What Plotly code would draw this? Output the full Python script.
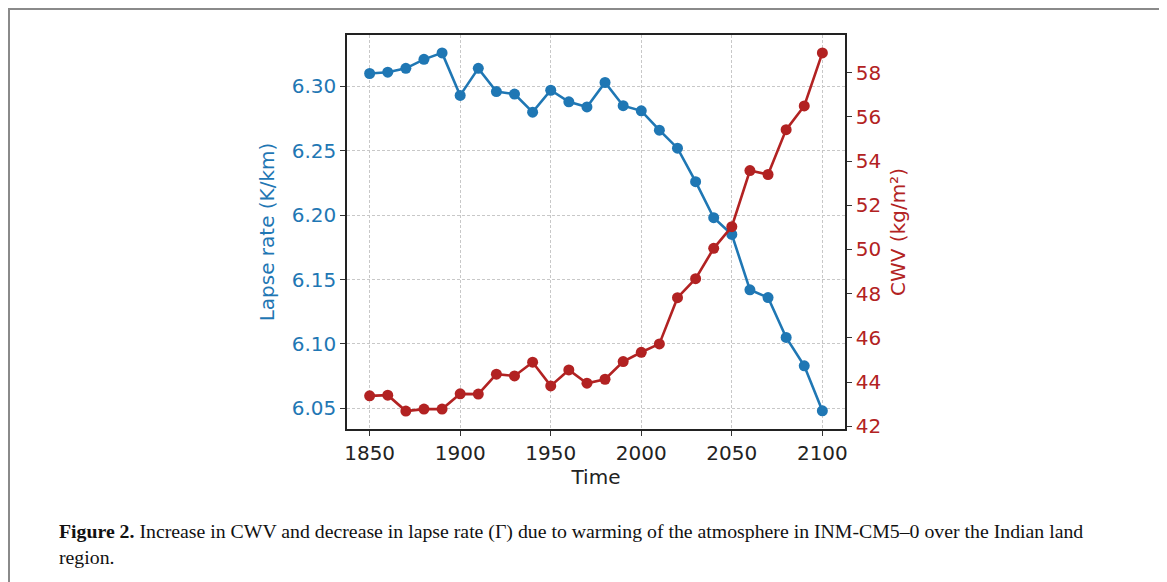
import plotly.graph_objects as go

# ---- data ----
years = [1850, 1860, 1870, 1880, 1890, 1900, 1910, 1920, 1930, 1940, 1950, 1960, 1970,
         1980, 1990, 2000, 2010, 2020, 2030, 2040, 2050, 2060, 2070, 2080, 2090, 2100]
lapse_rate = [6.310, 6.311, 6.314, 6.321, 6.326, 6.293, 6.314, 6.296, 6.294, 6.280,
              6.297, 6.288, 6.284, 6.303, 6.285, 6.281, 6.266, 6.252, 6.226, 6.198,
              6.185, 6.142, 6.136, 6.105, 6.083, 6.048]
cwv = [43.38, 43.41, 42.69, 42.78, 42.78, 43.47, 43.46, 44.36, 44.28, 44.90,
       43.83, 44.55, 43.95, 44.13, 44.93, 45.35, 45.73, 47.82, 48.68, 50.05,
       51.03, 53.57, 53.39, 55.42, 56.49, 58.89]

x_ticks = [1850, 1900, 1950, 2000, 2050, 2100]
lapse_ticks = [6.05, 6.10, 6.15, 6.20, 6.25, 6.30]
cwv_ticks = [42, 44, 46, 48, 50, 52, 54, 56, 58]

BLUE = "#1f77b4"
RED = "#b22222"
FONT = "DejaVu Sans"

# page offset of the figure (browser body margin)
OFF = 8
W, H = 1167 - OFF, 582 - OFF
# plot area in page pixels
PL, PR, PT, PB = 347, 845, 35, 429


def px(x):
    return (x - PL) / (PR - PL)


def py(y):
    return (PB - y) / (PB - PT)


fig = go.Figure()
fig.add_trace(go.Scatter(
    x=years, y=lapse_rate, mode="lines+markers", yaxis="y",
    line=dict(color=BLUE, width=2.6),
    marker=dict(color=BLUE, size=11), showlegend=False))
fig.add_trace(go.Scatter(
    x=years, y=cwv, mode="lines+markers", yaxis="y2",
    line=dict(color=RED, width=2.6),
    marker=dict(color=RED, size=11), showlegend=False))

axis_common = dict(
    showline=True, linecolor="#222222", linewidth=1.6,
    ticks="outside", ticklen=5, tickwidth=1.4, tickcolor="#333333",
    zeroline=False,
)

fig.update_layout(
    width=W, height=H,
    margin=dict(l=PL - OFF, r=1167 - PR, t=PT - OFF, b=582 - PB),
    paper_bgcolor="white", plot_bgcolor="white",
    font=dict(family=FONT, size=20, color="#222222"),
    xaxis=dict(
        range=[1837.5, 2112.5], tickvals=x_ticks,
        ticktext=[str(v) for v in x_ticks],
        tickfont=dict(family=FONT, size=20, color="#222222"),
        showgrid=True, gridcolor="#c8c8c8", gridwidth=1, griddash="3px,2px",
        mirror=True,
        title=dict(text="Time", font=dict(family=FONT, size=20, color="#222222"), standoff=6),
        **axis_common),
    yaxis=dict(
        range=[6.0339, 6.3399], tickvals=lapse_ticks,
        ticktext=[f"{v:.2f}" for v in lapse_ticks],
        tickfont=dict(family=FONT, size=20, color=BLUE),
        showgrid=True, gridcolor="#c8c8c8", gridwidth=1, griddash="3px,2px",
        title=dict(text="Lapse rate (K/km)", font=dict(family=FONT, size=20, color=BLUE), standoff=12),
        **axis_common),
    yaxis2=dict(
        range=[41.88, 59.70], tickvals=cwv_ticks,
        ticktext=[str(v) for v in cwv_ticks],
        tickfont=dict(family=FONT, size=20, color=RED),
        overlaying="y", side="right", showgrid=False,
        title=dict(text="CWV (kg/m²)", font=dict(family=FONT, size=20, color=RED), standoff=11),
        **axis_common),
)

# outer figure frame (clamped to the figure's own area)
fig.add_shape(type="rect", xref="paper", yref="paper",
              x0=px(OFF + 1), x1=px(1164), y0=py(600), y1=py(OFF + 1),
              line=dict(color="#8a8a8a", width=2), fillcolor="rgba(0,0,0,0)", layer="below")

# caption
fig.add_annotation(
    xref="paper", yref="paper", x=px(57), y=py(531), xanchor="left", yanchor="middle",
    showarrow=False, align="left",
    text="<b>Figure 2.</b> Increase in CWV and decrease in lapse rate (Γ) due to warming of the atmosphere in INM-CM5–0 over the Indian land",
    font=dict(family="Liberation Serif", size=19.8, color="#111111"))
fig.add_annotation(
    xref="paper", yref="paper", x=px(57), y=py(557), xanchor="left", yanchor="middle",
    showarrow=False, align="left", text="region.",
    font=dict(family="Liberation Serif", size=19.8, color="#111111"))

fig.write_html("out.html")
